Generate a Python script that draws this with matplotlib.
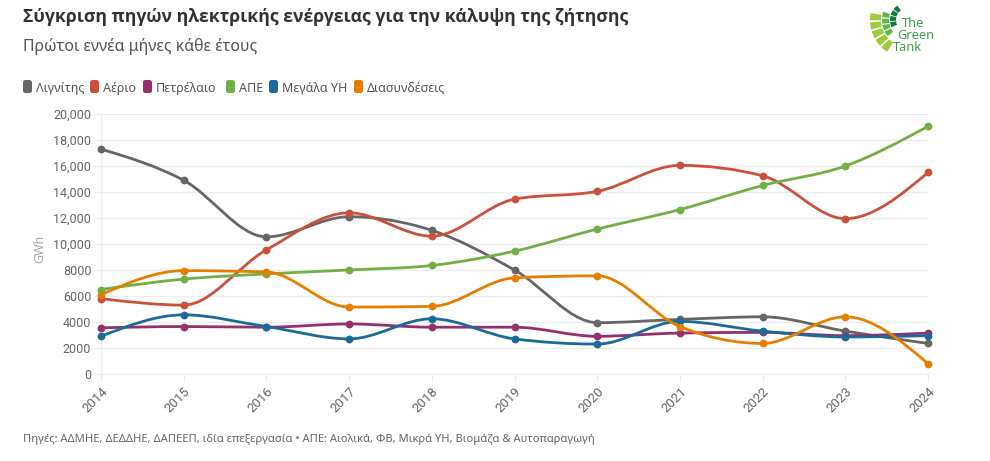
import numpy as np
import matplotlib
matplotlib.use("Agg")
import matplotlib.pyplot as plt
from matplotlib.path import Path
from matplotlib.patches import PathPatch, FancyBboxPatch, Polygon

plt.rcParams["font.family"] = ["Noto Sans", "DejaVu Sans"]

years = [2014, 2015, 2016, 2017, 2018, 2019, 2020, 2021, 2022, 2023, 2024]
lignite = [17300, 14900, 10550, 12100, 11050, 8000, 3950, 4200, 4400, 3300, 2350]
gas = [5800, 5300, 9550, 12400, 10600, 13450, 14050, 16050, 15250, 11950, 15500]
oil = [3550, 3650, 3600, 3850, 3600, 3600, 2900, 3150, 3200, 2950, 3150]
res = [6500, 7300, 7700, 8000, 8350, 9450, 11150, 12650, 14500, 16000, 19050]
hydro = [2900, 4550, 3650, 2700, 4250, 2700, 2300, 4050, 3300, 2850, 2950]
imports = [6100, 7950, 7850, 5150, 5200, 7400, 7550, 3650, 2350, 4400, 800]

names = ["Λιγνίτης", "Αέριο", "Πετρέλαιο", "ΑΠΕ", "Μεγάλα ΥΗ", "Διασυνδέσεις"]
series = [lignite, gas, oil, res, hydro, imports]
colors = ["#666666", "#CB4F3A", "#952F6E", "#72AF45", "#1B6A99", "#E67E00"]
legend_x = [23, 90, 143, 226, 269, 354]

y_ticks = [0, 2000, 4000, 6000, 8000, 10000, 12000, 14000, 16000, 18000, 20000]
GRID = "#ECECEC"
TICK_TEXT = "#666666"


def monotone_path(x, y):
    # monotone cubic through the points, no overshoot between years
    x, y = np.asarray(x, float), np.asarray(y, float)
    s = np.diff(y) / np.diff(x)
    t = np.zeros(len(y))
    for i in range(1, len(y) - 1):
        t[i] = (np.sign(s[i - 1]) + np.sign(s[i])) * min(
            abs(s[i - 1]), abs(s[i]), 0.25 * abs(s[i - 1] + s[i]))
    t[0] = (3 * s[0] - t[1]) / 2
    t[-1] = (3 * s[-1] - t[-2]) / 2
    verts, codes = [(x[0], y[0])], [Path.MOVETO]
    for i in range(len(x) - 1):
        d = (x[i + 1] - x[i]) / 3
        verts += [(x[i] + d, y[i] + d * t[i]),
                  (x[i + 1] - d, y[i + 1] - d * t[i + 1]),
                  (x[i + 1], y[i + 1])]
        codes += [Path.CURVE4] * 3
    return Path(verts, codes)


fig = plt.figure(figsize=(9.9, 4.61), dpi=100, facecolor="white")
ax = fig.add_axes([101 / 990, 1 - 374 / 461, (928 - 101) / 990, 260 / 461])

for vals, col in zip(series, colors):
    ax.add_patch(PathPatch(monotone_path(years, vals), fill=False, edgecolor=col,
                           linewidth=2.0, clip_on=False, zorder=3))
    ax.plot(years, vals, "o", color=col, markersize=4.6, clip_on=False, zorder=4)

ax.set_xlim(2014, 2024)
ax.set_ylim(0, 20000)
ax.set_xticks(years)
ax.set_xticklabels(years, rotation=45, ha="right", va="top", rotation_mode="anchor",
                   fontsize=9.5, family="Roboto", color=TICK_TEXT)
ax.set_yticks(y_ticks)
ax.set_yticklabels([f"{v:,}" if v >= 10000 else str(v) for v in y_ticks],
                   fontsize=9, family="Roboto", color=TICK_TEXT)
ax.tick_params(axis="x", length=5, width=0.8, color=GRID, pad=3)
ax.tick_params(axis="y", length=5, width=0.8, color=GRID, pad=2)
ax.grid(axis="y", color=GRID, linewidth=0.9, zorder=0)
ax.set_axisbelow(True)
for side in ["top", "right"]:
    ax.spines[side].set_visible(False)
for side in ["left", "bottom"]:
    ax.spines[side].set_color(GRID)
    ax.spines[side].set_linewidth(0.9)

# pixel-space overlay for the header, legend, footer and logo
over = fig.add_axes([0, 0, 1, 1], facecolor="none")
over.set_xlim(0, 990)
over.set_ylim(461, 0)
over.axis("off")

over.text(23, 22, "Σύγκριση πηγών ηλεκτρικής ενέργειας για την κάλυψη της ζήτησης",
          fontsize=12.7, family="Open Sans", fontweight="bold", color="#333333", va="baseline")
over.text(23, 51, "Πρώτοι εννέα μήνες κάθε έτους", fontsize=11.4, color="#555555", va="baseline")
over.text(40, 249, "GWh", fontsize=9, color="#A8A8A8", rotation=90, ha="center", va="center")

for name, col, lx in zip(names, colors, legend_x):
    over.add_patch(FancyBboxPatch((lx + 1.5, 81.5), 6, 10, boxstyle="round,pad=1.5,rounding_size=2.5",
                                  facecolor=col, edgecolor="none"))
    over.text(lx + 13, 92, name, fontsize=9, color="#555555", va="baseline")

over.text(23, 442, "Πηγές: ΑΔΜΗΕ, ΔΕΔΔΗΕ, ΔΑΠΕΕΠ, ιδία επεξεργασία • ΑΠΕ: Αιολικά, ΦΒ, Μικρά ΥΗ, Βιομάζα & Αυτοπαραγωγή",
          fontsize=8.05, color="#666666", va="baseline")

# logo: curved rows of blocks around a common centre
logo_rows = [(27, 38, "#9CCB3B", 5, 122, 192), (19, 26, "#5CB947", 4, 140, 200), (12, 18, "#0F7A3D", 4, 155, 235)]
cx, cy = 908, 20
for r0, r1, col, n, start, stop in logo_rows:
    edges = np.linspace(start, stop, n + 1)
    for a0, a1 in zip(edges[:-1], edges[1:]):
        a = np.radians(np.linspace(a0 + 1.5, a1 - 1.5, 6))
        outer = np.c_[cx + r1 * np.cos(a), cy + r1 * np.sin(a)]
        inner = np.c_[cx + r0 * np.cos(a[::-1]), cy + r0 * np.sin(a[::-1])]
        over.add_patch(Polygon(np.r_[outer, inner], facecolor=col, edgecolor="none"))
for lbl, lx, ly in [("The", 902, 27), ("Green", 897, 39), ("Tank", 893, 51)]:
    over.text(lx, ly, lbl, fontsize=9.2, color="#3E9B4F", va="baseline")

fig.savefig("out.png", dpi=100)
